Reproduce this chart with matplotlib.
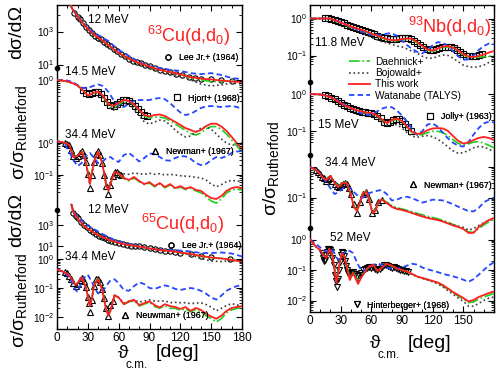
import numpy as np
import matplotlib
matplotlib.use('Agg')
import matplotlib.pyplot as plt
from matplotlib.lines import Line2D
from matplotlib.ticker import FixedLocator, FuncFormatter, NullFormatter, MultipleLocator

plt.rcParams['font.family'] = ['Liberation Sans', 'DejaVu Sans']
plt.rcParams['mathtext.fontset'] = 'custom'
plt.rcParams['mathtext.rm'] = 'Liberation Sans'
plt.rcParams['mathtext.it'] = 'Liberation Sans:italic'
plt.rcParams['mathtext.bf'] = 'Liberation Sans:bold'

# ---------------- data ----------------
# 63Cu, 12 MeV (dsigma/dOmega)
cu63_12_theta = [12, 15, 20, 25, 30, 35, 40, 45, 50, 55, 60, 70, 80, 90, 100, 110, 120, 130, 140, 150, 160, 170, 180]
cu63_12_daehnick = [6.0e4, 2.2e4, 7.7e3, 3.2e3, 1.4e3, 700, 430, 255, 148, 86, 50, 23, 12.0, 7.4, 4.6, 3.4, 2.4, 1.6, 1.2, 0.9, 0.95, 1.0, 0.9]
cu63_12_bojowald = [6.0e4, 2.2e4, 7.6e3, 3.1e3, 1.35e3, 680, 420, 250, 143, 82, 47, 21, 11, 6.6, 4.1, 2.8, 2.0, 1.15, 0.66, 0.5, 0.58, 0.76, 0.66]
cu63_12_thiswork = [6.2e4, 2.3e4, 7.9e3, 3.3e3, 1.4e3, 710, 440, 260, 150, 87, 50, 23, 12.3, 7.6, 4.7, 3.5, 2.5, 1.7, 1.4, 1.23, 1.07, 0.93, 0.87]
cu63_12_watanabe = [6.5e4, 2.5e4, 8.5e3, 3.6e3, 1.6e3, 900, 620, 400, 265, 140, 76, 33, 14, 8.1, 6.2, 4.7, 4.1, 3.0, 2.6, 3.0, 2.3, 1.5, 1.3]
cu63_12_exp_theta = [17, 20, 22, 25, 28, 31, 34, 37, 40, 43, 46, 49, 52, 55, 58, 62, 66, 70, 74, 78, 82, 86, 90, 95, 100, 105, 110, 116, 122, 128, 134, 140, 150, 160, 170]
cu63_12_exp = [1.4e4, 7.5e3, 5.5e3, 3.2e3, 2.0e3, 1.2e3, 800, 560, 430, 330, 230, 170, 125, 90, 65, 42, 31, 23, 17, 13.5, 11.5, 9.5, 7.8, 6.0, 4.8, 4.2, 3.6, 2.8, 2.4, 1.8, 1.55, 1.4, 1.25, 1.1, 0.95]

# 63Cu, 14.5 MeV
cu63_14_theta = [0, 5, 10, 15, 20, 25, 30, 35, 40, 45, 50, 55, 60, 65, 70, 75, 80, 85, 90, 95, 100, 105, 110, 115, 120, 125, 130, 135, 140, 145, 150, 155, 160, 165, 170, 175, 180]
cu63_14_daehnick = [1.0, 0.96, 0.89, 0.79, 0.66, 0.46, 0.30, 0.36, 0.39, 0.27, 0.145, 0.117, 0.147, 0.20, 0.19, 0.145, 0.095, 0.064, 0.054, 0.058, 0.058, 0.054, 0.043, 0.034, 0.027, 0.0207, 0.0165, 0.0147, 0.0171, 0.0233, 0.028, 0.028, 0.0224, 0.0158, 0.010, 0.0063, 0.0040]
cu63_14_bojowald = [1.0, 0.96, 0.89, 0.79, 0.65, 0.45, 0.29, 0.35, 0.38, 0.25, 0.126, 0.10, 0.126, 0.17, 0.158, 0.108, 0.063, 0.040, 0.034, 0.040, 0.046, 0.043, 0.032, 0.0215, 0.0158, 0.0126, 0.0136, 0.0185, 0.025, 0.027, 0.023, 0.0158, 0.0108, 0.0079, 0.0068, 0.0068, 0.0079]
cu63_14_thiswork = [1.0, 0.96, 0.89, 0.79, 0.66, 0.46, 0.30, 0.37, 0.41, 0.29, 0.16, 0.136, 0.17, 0.215, 0.20, 0.152, 0.10, 0.068, 0.061, 0.068, 0.071, 0.063, 0.050, 0.040, 0.032, 0.025, 0.0215, 0.0185, 0.0215, 0.029, 0.035, 0.035, 0.028, 0.020, 0.0126, 0.0079, 0.0050]
cu63_14_watanabe = [1.0, 1.0, 0.96, 0.86, 0.68, 0.54, 0.54, 0.63, 0.71, 0.63, 0.40, 0.215, 0.136, 0.126, 0.158, 0.20, 0.215, 0.215, 0.215, 0.24, 0.25, 0.23, 0.17, 0.117, 0.083, 0.068, 0.074, 0.093, 0.117, 0.131, 0.136, 0.131, 0.126, 0.131, 0.136, 0.126, 0.108]
cu63_14_exp_theta = [25, 28, 31, 34, 37, 40, 43, 46, 49, 52, 55, 58, 61, 64, 67, 70, 73, 76, 79, 82, 85, 88]
cu63_14_exp = [0.45, 0.36, 0.33, 0.36, 0.40, 0.40, 0.33, 0.25, 0.18, 0.145, 0.14, 0.16, 0.18, 0.21, 0.22, 0.20, 0.17, 0.14, 0.11, 0.085, 0.07, 0.062]

# 63Cu, 34.4 MeV
cu63_34_theta = [0, 4, 8, 12, 16, 20, 24, 28, 32, 36, 40, 44, 48, 50, 52, 56, 60, 65, 70, 75, 80, 85, 90, 95, 100, 105, 110, 115, 120, 125, 130, 135, 140, 145, 150, 155, 160, 165, 170, 175, 180]
cu63_34_daehnick = [1.15, 1.07, 1.0, 0.87, 0.38, 0.40, 0.55, 0.27, 0.06, 0.27, 0.55, 0.25, 0.05, 0.036, 0.055, 0.12, 0.105, 0.077, 0.066, 0.080, 0.062, 0.050, 0.056, 0.043, 0.052, 0.040, 0.049, 0.037, 0.042, 0.035, 0.039, 0.032, 0.028, 0.021, 0.0154, 0.0133, 0.0178, 0.0276, 0.034, 0.036, 0.034]
cu63_34_bojowald = [1.15, 1.07, 1.0, 0.87, 0.37, 0.39, 0.53, 0.25, 0.05, 0.25, 0.53, 0.24, 0.05, 0.04, 0.06, 0.13, 0.12, 0.11, 0.105, 0.115, 0.11, 0.105, 0.113, 0.105, 0.11, 0.10, 0.105, 0.10, 0.095, 0.092, 0.09, 0.085, 0.081, 0.07, 0.052, 0.043, 0.05, 0.062, 0.068, 0.065, 0.062]
cu63_34_thiswork = [1.15, 1.07, 1.0, 0.87, 0.365, 0.39, 0.54, 0.255, 0.052, 0.255, 0.54, 0.237, 0.045, 0.032, 0.052, 0.124, 0.111, 0.081, 0.070, 0.087, 0.065, 0.052, 0.060, 0.045, 0.056, 0.042, 0.052, 0.039, 0.045, 0.037, 0.042, 0.034, 0.032, 0.024, 0.0191, 0.0178, 0.0221, 0.032, 0.039, 0.042, 0.039]
cu63_34_watanabe = [1.15, 1.07, 0.87, 0.52, 0.29, 0.19, 0.237, 0.39, 0.49, 0.34, 0.237, 0.255, 0.34, 0.35, 0.365, 0.29, 0.255, 0.42, 0.49, 0.365, 0.264, 0.34, 0.47, 0.45, 0.365, 0.29, 0.28, 0.34, 0.39, 0.38, 0.32, 0.237, 0.205, 0.22, 0.29, 0.365, 0.34, 0.39, 0.49, 0.54, 0.56]
cu63_34_exp_theta = [8, 10, 12, 14, 16, 18, 20, 22, 24, 26, 28, 30, 32, 34, 36, 38, 40, 42, 44, 46, 48, 50, 52, 54, 56, 58, 60, 62]
cu63_34_exp = [1.0, 0.95, 0.85, 0.6, 0.38, 0.33, 0.40, 0.48, 0.55, 0.42, 0.25, 0.11, 0.04, 0.1, 0.25, 0.45, 0.56, 0.42, 0.24, 0.10, 0.045, 0.025, 0.05, 0.09, 0.12, 0.125, 0.11, 0.10]

# 65Cu, 12 MeV (dsigma/dOmega)
cu65_12_theta = [14, 16, 20, 25, 30, 35, 40, 45, 50, 55, 60, 70, 80, 90, 100, 110, 120, 130, 140, 150, 160, 170, 180]
cu65_12_daehnick = [8.9e4, 1.55e4, 4.2e3, 1.1e3, 415, 215, 112, 65, 42, 27, 19.5, 12.4, 8.9, 5.8, 4.2, 3.3, 2.4, 1.74, 1.0, 0.72, 0.65, 0.5, 0.37]
cu65_12_bojowald = [8.9e4, 1.5e4, 4.1e3, 1.05e3, 400, 205, 107, 62, 40, 26, 18.5, 11.8, 8.4, 5.4, 3.9, 3.0, 2.2, 1.38, 0.65, 0.37, 0.33, 0.42, 0.33]
cu65_12_thiswork = [8.9e4, 1.55e4, 4.2e3, 1.1e3, 415, 215, 112, 65, 42, 27, 19.5, 12.4, 8.9, 5.8, 4.2, 3.3, 2.4, 1.74, 1.12, 0.80, 0.65, 0.47, 0.33]
cu65_12_watanabe = [8.9e4, 1.9e4, 5.8e3, 2.15e3, 900, 465, 240, 125, 72, 42, 27, 15.5, 10, 5.8, 4.6, 4.2, 3.7, 3.0, 2.15, 2.15, 2.4, 1.93, 1.0]
cu65_12_exp_theta = [16, 18, 20, 23, 26, 29, 32, 35, 38, 41, 44, 47, 50, 53, 56, 60, 64, 68, 72, 76, 80, 85, 90, 95, 100, 105, 110, 115, 120, 130, 140, 150, 168]
cu65_12_exp = [1.5e4, 7e3, 4.5e3, 2e3, 900, 600, 330, 210, 140, 95, 70, 52, 40, 31, 24, 19, 15.5, 13, 11, 10, 9, 7.5, 6, 5, 4.2, 3.6, 3.2, 2.8, 2.4, 1.8, 1.2, 0.85, 0.6]

# 65Cu, 34.4 MeV
cu65_34_theta = [0, 4, 8, 12, 16, 18, 20, 24, 28, 30, 32, 34, 36, 40, 44, 48, 50, 52, 56, 60, 65, 70, 75, 80, 85, 90, 95, 100, 105, 110, 115, 120, 125, 130, 135, 140, 145, 150, 155, 160, 165, 170, 175, 180]
cu65_34_daehnick = [0.43, 0.39, 0.335, 0.28, 0.16, 0.13, 0.15, 0.23, 0.11, 0.055, 0.027, 0.045, 0.13, 0.21, 0.09, 0.018, 0.013, 0.018, 0.055, 0.046, 0.027, 0.033, 0.037, 0.024, 0.028, 0.032, 0.023, 0.020, 0.025, 0.020, 0.020, 0.017, 0.019, 0.015, 0.018, 0.015, 0.011, 0.0089, 0.0067, 0.0089, 0.014, 0.0176, 0.0197, 0.0221]
cu65_34_bojowald = [0.43, 0.39, 0.335, 0.275, 0.155, 0.125, 0.145, 0.225, 0.105, 0.05, 0.025, 0.045, 0.125, 0.2, 0.085, 0.018, 0.013, 0.018, 0.055, 0.047, 0.03, 0.035, 0.038, 0.033, 0.035, 0.039, 0.036, 0.035, 0.036, 0.031, 0.032, 0.031, 0.031, 0.029, 0.030, 0.031, 0.027, 0.022, 0.0163, 0.02, 0.025, 0.029, 0.026, 0.024]
cu65_34_thiswork = [0.43, 0.39, 0.335, 0.277, 0.157, 0.126, 0.146, 0.23, 0.108, 0.051, 0.0238, 0.0436, 0.126, 0.205, 0.086, 0.0163, 0.0112, 0.0163, 0.057, 0.047, 0.0277, 0.0348, 0.039, 0.0257, 0.030, 0.0348, 0.0257, 0.0213, 0.0277, 0.0238, 0.0221, 0.019, 0.0221, 0.0163, 0.0205, 0.0176, 0.013, 0.0104, 0.0087, 0.0112, 0.0163, 0.0205, 0.0221, 0.0238]
cu65_34_watanabe = [0.43, 0.39, 0.31, 0.23, 0.126, 0.086, 0.074, 0.157, 0.267, 0.288, 0.213, 0.16, 0.108, 0.064, 0.074, 0.116, 0.15, 0.183, 0.20, 0.146, 0.086, 0.080, 0.116, 0.157, 0.136, 0.10, 0.093, 0.108, 0.123, 0.112, 0.093, 0.086, 0.093, 0.10, 0.093, 0.080, 0.064, 0.047, 0.040, 0.055, 0.080, 0.10, 0.116, 0.126]
cu65_34_exp_theta = [8, 10, 12, 14, 16, 18, 20, 22, 24, 26, 28, 30, 31, 32, 34, 36, 38, 40, 42, 44, 46, 48, 50, 52, 54]
cu65_34_exp = [0.36, 0.33, 0.26, 0.2, 0.15, 0.12, 0.14, 0.19, 0.22, 0.17, 0.11, 0.05, 0.03, 0.015, 0.04, 0.12, 0.2, 0.21, 0.16, 0.09, 0.045, 0.02, 0.0105, 0.025, 0.035]

# 93Nb, 11.8 MeV
nb_11_theta = [0, 10, 20, 25, 30, 35, 40, 45, 50, 55, 60, 65, 70, 75, 80, 85, 90, 95, 100, 105, 110, 115, 120, 125, 130, 135, 140, 145, 150, 155, 160, 165, 170, 175, 180]
nb_11_daehnick = [1.0, 1.0, 1.0, 0.86, 0.75, 0.66, 0.58, 0.53, 0.48, 0.43, 0.38, 0.34, 0.30, 0.27, 0.25, 0.25, 0.27, 0.28, 0.265, 0.22, 0.17, 0.14, 0.13, 0.145, 0.165, 0.17, 0.155, 0.13, 0.105, 0.09, 0.088, 0.09, 0.092, 0.095, 0.1]
nb_11_bojowald = [1.0, 1.0, 0.98, 0.85, 0.74, 0.63, 0.55, 0.48, 0.42, 0.36, 0.31, 0.27, 0.24, 0.22, 0.2, 0.18, 0.17, 0.15, 0.13, 0.115, 0.095, 0.085, 0.084, 0.095, 0.103, 0.1, 0.085, 0.068, 0.055, 0.05, 0.048, 0.05, 0.055, 0.065, 0.076]
nb_11_thiswork = [1.0, 1.0, 1.0, 0.88, 0.78, 0.69, 0.61, 0.55, 0.50, 0.445, 0.39, 0.35, 0.31, 0.28, 0.26, 0.26, 0.28, 0.29, 0.28, 0.23, 0.18, 0.145, 0.136, 0.155, 0.175, 0.18, 0.164, 0.136, 0.11, 0.094, 0.091, 0.097, 0.106, 0.12, 0.132]
nb_11_watanabe = [1.0, 1.0, 0.98, 0.9, 0.8, 0.7, 0.6, 0.52, 0.45, 0.40, 0.36, 0.35, 0.36, 0.39, 0.40, 0.34, 0.25, 0.19, 0.15, 0.125, 0.115, 0.14, 0.19, 0.23, 0.22, 0.18, 0.13, 0.095, 0.076, 0.08, 0.1, 0.14, 0.18, 0.21, 0.2]
nb_11_exp_theta = [15, 18, 21, 24, 27, 30, 33, 36, 39, 42, 45, 48, 51, 54, 57, 60, 63, 66, 69, 72, 75, 78, 81, 84, 87, 90, 93, 96, 99, 102, 105, 108, 111, 114, 117, 120, 123, 126, 129, 132, 135, 138, 141, 144, 147, 150, 153, 156, 159, 162, 165, 168]
nb_11_exp = [1.02, 1.05, 1.0, 0.92, 0.84, 0.8, 0.74, 0.68, 0.62, 0.6, 0.57, 0.53, 0.5, 0.46, 0.42, 0.4, 0.37, 0.34, 0.32, 0.3, 0.29, 0.28, 0.28, 0.28, 0.29, 0.30, 0.30, 0.30, 0.28, 0.25, 0.22, 0.19, 0.165, 0.15, 0.14, 0.14, 0.15, 0.16, 0.17, 0.175, 0.175, 0.17, 0.16, 0.14, 0.125, 0.11, 0.1, 0.095, 0.095, 0.1, 0.105, 0.11]

# 93Nb, 15 MeV
nb_15_theta = [0, 10, 15, 20, 25, 30, 35, 40, 45, 50, 55, 60, 65, 70, 75, 80, 85, 90, 95, 100, 105, 110, 115, 120, 125, 130, 135, 140, 145, 150, 155, 160, 165, 170, 175, 180]
nb_15_daehnick = [1.0, 0.97, 0.91, 0.83, 0.69, 0.57, 0.47, 0.41, 0.36, 0.33, 0.31, 0.3, 0.26, 0.2, 0.158, 0.19, 0.21, 0.18, 0.128, 0.09, 0.078, 0.08, 0.09, 0.098, 0.098, 0.09, 0.075, 0.058, 0.046, 0.042, 0.045, 0.05, 0.052, 0.047, 0.041, 0.035]
nb_15_bojowald = [1.0, 0.97, 0.9, 0.81, 0.67, 0.55, 0.45, 0.40, 0.35, 0.32, 0.29, 0.27, 0.24, 0.19, 0.145, 0.15, 0.15, 0.12, 0.09, 0.072, 0.068, 0.072, 0.075, 0.07, 0.06, 0.048, 0.037, 0.029, 0.025, 0.026, 0.03, 0.035, 0.038, 0.037, 0.032, 0.028]
nb_15_thiswork = [1.0, 0.97, 0.91, 0.83, 0.69, 0.57, 0.47, 0.42, 0.37, 0.34, 0.316, 0.306, 0.27, 0.21, 0.164, 0.198, 0.218, 0.186, 0.132, 0.094, 0.083, 0.088, 0.106, 0.117, 0.12, 0.117, 0.1, 0.073, 0.054, 0.046, 0.049, 0.057, 0.065, 0.069, 0.065, 0.057]
nb_15_watanabe = [1.0, 0.97, 0.92, 0.84, 0.72, 0.6, 0.5, 0.42, 0.36, 0.3, 0.27, 0.28, 0.33, 0.4, 0.44, 0.44, 0.36, 0.26, 0.18, 0.11, 0.078, 0.1, 0.15, 0.16, 0.13, 0.09, 0.063, 0.048, 0.04, 0.038, 0.05, 0.08, 0.12, 0.16, 0.18, 0.17]
nb_15_exp_theta = [15, 18, 21, 24, 27, 30, 33, 36, 39, 42, 45, 48, 51, 54, 57, 60, 63, 66, 69, 72, 75, 78, 81, 84, 87, 90, 93, 96, 99]
nb_15_exp = [0.93, 0.88, 0.8, 0.72, 0.64, 0.58, 0.52, 0.47, 0.43, 0.4, 0.37, 0.35, 0.33, 0.32, 0.31, 0.3, 0.28, 0.25, 0.22, 0.18, 0.16, 0.18, 0.2, 0.21, 0.21, 0.19, 0.15, 0.125, 0.1]

# 93Nb, 34.4 MeV
nb_34_theta = [0, 4, 8, 12, 16, 20, 24, 28, 32, 36, 40, 43, 46, 49, 52, 55, 58, 61, 64, 67, 70, 75, 80, 85, 90, 95, 100, 105, 110, 115, 120, 125, 130, 135, 140, 145, 150, 155, 160, 165, 170, 175, 180]
nb_34_daehnick = [1.0, 0.86, 0.69, 0.47, 0.38, 0.52, 0.31, 0.23, 0.31, 0.32, 0.13, 0.052, 0.04, 0.075, 0.15, 0.165, 0.088, 0.034, 0.04, 0.075, 0.09, 0.07, 0.053, 0.046, 0.042, 0.038, 0.034, 0.03, 0.027, 0.024, 0.022, 0.02, 0.018, 0.0155, 0.013, 0.011, 0.0093, 0.0075, 0.0072, 0.0095, 0.0125, 0.016, 0.019]
nb_34_bojowald = [1.0, 0.86, 0.69, 0.47, 0.37, 0.5, 0.29, 0.21, 0.29, 0.29, 0.115, 0.048, 0.037, 0.07, 0.135, 0.15, 0.08, 0.033, 0.038, 0.07, 0.085, 0.07, 0.052, 0.044, 0.04, 0.036, 0.032, 0.028, 0.025, 0.022, 0.02, 0.0185, 0.0165, 0.0145, 0.0128, 0.0115, 0.0105, 0.0085, 0.0095, 0.012, 0.015, 0.018, 0.02]
nb_34_thiswork = [1.0, 0.86, 0.69, 0.47, 0.375, 0.51, 0.30, 0.22, 0.30, 0.30, 0.121, 0.049, 0.036, 0.071, 0.14, 0.157, 0.083, 0.031, 0.036, 0.071, 0.086, 0.066, 0.049, 0.042, 0.039, 0.035, 0.031, 0.0267, 0.0238, 0.0213, 0.0197, 0.0183, 0.0163, 0.0141, 0.0121, 0.0108, 0.0093, 0.0069, 0.0069, 0.0108, 0.0141, 0.0183, 0.0213]
nb_34_watanabe = [1.0, 0.88, 0.72, 0.5, 0.32, 0.2, 0.13, 0.15, 0.2, 0.226, 0.2, 0.15, 0.12, 0.1, 0.1, 0.12, 0.14, 0.15, 0.16, 0.17, 0.176, 0.13, 0.08, 0.085, 0.1, 0.106, 0.095, 0.08, 0.068, 0.075, 0.085, 0.083, 0.08, 0.07, 0.06, 0.05, 0.042, 0.036, 0.035, 0.045, 0.07, 0.085, 0.1]
nb_34_exp_theta = [6, 8, 10, 12, 14, 16, 18, 20, 22, 24, 26, 28, 30, 32, 34, 36, 38, 40, 43, 46, 49, 52, 55, 58, 61, 64, 67, 70]
nb_34_exp = [0.8, 0.7, 0.58, 0.48, 0.42, 0.35, 0.4, 0.45, 0.35, 0.28, 0.24, 0.22, 0.25, 0.28, 0.3, 0.27, 0.2, 0.13, 0.06, 0.032, 0.07, 0.13, 0.15, 0.09, 0.03, 0.04, 0.07, 0.085]

# 93Nb, 52 MeV
nb_52_theta = [0, 3, 6, 10, 13, 16, 19, 22, 24, 26, 28, 31, 34, 37, 39, 42, 44, 47, 50, 54, 58, 62, 66, 70, 75, 80, 85, 90, 95, 100, 105, 110, 115, 120, 125, 130, 135, 140, 145, 150, 155, 160, 165, 170, 175, 180]
nb_52_daehnick = [1.0, 0.75, 0.57, 0.45, 0.32, 0.26, 0.48, 0.3, 0.11, 0.045, 0.11, 0.36, 0.26, 0.1, 0.06, 0.085, 0.065, 0.045, 0.06, 0.09, 0.13, 0.14, 0.095, 0.115, 0.155, 0.135, 0.11, 0.098, 0.087, 0.072, 0.06, 0.054, 0.048, 0.042, 0.037, 0.03, 0.023, 0.018, 0.014, 0.011, 0.0085, 0.009, 0.011, 0.013, 0.015, 0.017]
nb_52_bojowald = [1.0, 0.75, 0.57, 0.45, 0.32, 0.26, 0.47, 0.3, 0.11, 0.045, 0.11, 0.35, 0.26, 0.1, 0.06, 0.085, 0.065, 0.045, 0.06, 0.09, 0.13, 0.14, 0.095, 0.115, 0.155, 0.135, 0.11, 0.098, 0.087, 0.072, 0.06, 0.053, 0.047, 0.041, 0.035, 0.028, 0.021, 0.016, 0.012, 0.0095, 0.0065, 0.0065, 0.008, 0.01, 0.012, 0.013]
nb_52_thiswork = [1.0, 0.75, 0.57, 0.45, 0.31, 0.25, 0.49, 0.29, 0.10, 0.0375, 0.10, 0.36, 0.25, 0.086, 0.047, 0.080, 0.059, 0.035, 0.055, 0.089, 0.135, 0.146, 0.093, 0.116, 0.163, 0.14, 0.112, 0.1, 0.089, 0.074, 0.061, 0.055, 0.049, 0.0436, 0.039, 0.032, 0.0247, 0.019, 0.0151, 0.0121, 0.0093, 0.0104, 0.013, 0.0151, 0.0176, 0.0197]
nb_52_watanabe = [1.0, 0.85, 0.7, 0.55, 0.45, 0.4, 0.45, 0.45, 0.35, 0.25, 0.22, 0.3, 0.38, 0.43, 0.42, 0.36, 0.25, 0.15, 0.1, 0.1, 0.12, 0.15, 0.16, 0.15, 0.12, 0.11, 0.11, 0.12, 0.14, 0.16, 0.15, 0.12, 0.105, 0.095, 0.085, 0.075, 0.068, 0.062, 0.055, 0.048, 0.041, 0.05, 0.07, 0.1, 0.14, 0.18]
nb_52_exp_theta = [12, 13, 14, 15, 16, 17, 18, 19, 20, 21, 22, 23, 24, 25, 26, 27, 28, 29, 30, 31, 32, 33, 34, 35, 36, 37, 38, 40, 42, 44, 46, 48, 50, 52, 54, 56, 58, 60, 62, 64, 66, 68, 70, 72, 74, 76, 78, 80, 82, 84, 86, 88, 90, 92, 94, 96]
nb_52_exp = [0.35, 0.25, 0.2, 0.22, 0.3, 0.4, 0.5, 0.5, 0.45, 0.38, 0.25, 0.15, 0.07, 0.045, 0.028, 0.05, 0.1, 0.18, 0.3, 0.38, 0.35, 0.28, 0.2, 0.14, 0.1, 0.08, 0.075, 0.08, 0.085, 0.075, 0.065, 0.07, 0.08, 0.1, 0.11, 0.12, 0.13, 0.12, 0.125, 0.11, 0.1, 0.11, 0.13, 0.15, 0.15, 0.14, 0.13, 0.12, 0.13, 0.12, 0.11, 0.1, 0.1, 0.095, 0.09, 0.085]

model_labels = ['Daehnick+', 'Bojowald+', 'This work', 'Watanabe (TALYS)']
x_ticks = [0, 30, 60, 90, 120, 150, 180]

# ---------------- styling ----------------
RED = '#ff1f1f'
GREEN = '#1ed01e'
GRAY = '#3c3c3c'
BLUE = '#2447ff'
BLUE_DASH = (0, (3.0, 1.8))
TICK_FS = 7.3

W, H = 496, 371
fig = plt.figure(figsize=(W / 100, H / 100), dpi=100)

LP = (57, 242, 5, 329)      # left panel  x0, x1, ytop, ybottom (pixels)
RP = (310, 494, 5, 311.7)   # right panel


def rect(P):
    x0, x1, y0, y1 = P
    return [x0 / W, 1 - y1 / H, (x1 - x0) / W, (y1 - y0) / H]


def afx(P, px):
    return (px - P[0]) / (P[1] - P[0])


def afy(P, py):
    return (P[3] - py) / (P[3] - P[2])


def frame(P, labels, name):
    ax = fig.add_axes(rect(P), label=name)
    ax.set_xlim(0, 180)
    ax.set_ylim(0, 1)
    ax.set_yticks([])
    ax.set_xticks(x_ticks)
    ax.set_xticklabels(labels)
    ax.xaxis.set_minor_locator(MultipleLocator(10))
    ax.tick_params(axis='x', which='both', direction='in', top=True, bottom=True,
                   labelsize=8.5, pad=2.5)
    ax.tick_params(axis='x', which='major', length=4, width=0.8)
    ax.tick_params(axis='x', which='minor', length=2, width=0.7)
    for s in ax.spines.values():
        s.set_linewidth(1.0)
    return ax


def layer(P, name, ref_px, d, majors, labelled, minors):
    ax = fig.add_axes(rect(P), label=name, facecolor='none')
    ax.set_yscale('log')
    lo = -(P[3] - ref_px) / d
    hi = (ref_px - P[2]) / d
    ax.set_ylim(10 ** lo, 10 ** hi)
    ax.set_xlim(0, 180)
    for s in ax.spines.values():
        s.set_visible(False)
    ax.tick_params(axis='x', which='both', bottom=False, top=False, labelbottom=False)
    ax.yaxis.set_major_locator(FixedLocator(majors))

    def fmt(v, pos):
        e = int(round(np.log10(v)))
        return r'$10^{%d}$' % e if e in labelled else ''
    ax.yaxis.set_major_formatter(FuncFormatter(fmt))
    ax.yaxis.set_minor_locator(FixedLocator(minors))
    ax.yaxis.set_minor_formatter(NullFormatter())
    ax.tick_params(axis='y', which='both', direction='in', left=True, right=True,
                   labelsize=TICK_FS, pad=2)
    ax.tick_params(axis='y', which='major', length=4, width=0.8)
    ax.tick_params(axis='y', which='minor', length=2, width=0.6)
    ax.patch.set_visible(False)
    return ax


def subs(decades):
    return [k * 10.0 ** e for e in decades for k in range(2, 10)]


def draw(ax, th, dae, boj, tw, wat, eth, ev, marker):
    ax.plot(eth, ev, ls='none', marker=marker, mfc='none', mec='k', ms=3.8, mew=0.8, zorder=2)
    ax.plot(th, dae, color=GREEN, ls='-.', lw=1.2, zorder=3)
    ax.plot(th, boj, color=GRAY, ls=':', lw=1.2, zorder=3)
    ax.plot(th, wat, color=BLUE, ls=BLUE_DASH, lw=1.3, zorder=3)
    ax.plot(th, tw, color=RED, lw=1.3, zorder=4)


def mleg(ax, P, marker, label, mx, my):
    h = Line2D([], [], ls='none', marker=marker, mfc='none', mec='k', ms=3.8, mew=0.8)
    leg = ax.legend([h], [label], loc='center left',
                    bbox_to_anchor=(afx(P, mx - 4.3), afy(P, my)),
                    frameon=False, fontsize=6.3, handlelength=1.0, handletextpad=0.7,
                    borderpad=0, borderaxespad=0)
    ax.add_artist(leg)


# ---------------- left panel ----------------
frame(LP, [str(t) for t in x_ticks], 'lframe')

axA = layer(LP, 'A', 31.5 + 3 * 16.5, 16.5, [10, 1000], [1, 3], [100, 1e4])
draw(axA, cu63_12_theta, cu63_12_daehnick, cu63_12_bojowald, cu63_12_thiswork, cu63_12_watanabe,
     cu63_12_exp_theta, cu63_12_exp, 'o')
mleg(axA, LP, 'o', 'Lee Jr.+ (1964)', 168, 58)

axB = layer(LP, 'B', 80, 30, [1], [0], subs([-1]))
draw(axB, cu63_14_theta, cu63_14_daehnick, cu63_14_bojowald, cu63_14_thiswork, cu63_14_watanabe,
     cu63_14_exp_theta, cu63_14_exp, 's')
mleg(axB, LP, 's', 'Hjort+ (1968)', 177, 98)

axC = layer(LP, 'C', 143, 32, [1, 0.1], [0, -1], subs([-1]) + [0.03, 0.04, 0.05, 0.06, 0.07, 0.08, 0.09])
draw(axC, cu63_34_theta, cu63_34_daehnick, cu63_34_bojowald, cu63_34_thiswork, cu63_34_watanabe,
     cu63_34_exp_theta, cu63_34_exp, '^')
mleg(axC, LP, '^', 'Newman+ (1967)', 155, 151.7)

axD = layer(LP, 'D', 225 + 3 * 10.5, 10.5, [10, 1000], [1, 3], [100, 1e4])
draw(axD, cu65_12_theta, cu65_12_daehnick, cu65_12_bojowald, cu65_12_thiswork, cu65_12_watanabe,
     cu65_12_exp_theta, cu65_12_exp, 'o')
mleg(axD, LP, 'o', 'Lee Jr.+ (1964)', 171, 245.5)

axE = layer(LP, 'E', 259, 29, [1, 0.1, 0.01], [0, -1, -2], subs([-2, -1]))
draw(axE, cu65_34_theta, cu65_34_daehnick, cu65_34_bojowald, cu65_34_thiswork, cu65_34_watanabe,
     cu65_34_exp_theta, cu65_34_exp, '^')
mleg(axE, LP, '^', 'Neuwman+ (1967)', 125, 316)

# ---------------- right panel ----------------
frame(RP, ['0', '30', '60', '90', '120', '150', ''], 'rframe')

axF = layer(RP, 'F', 18.5, 37, [1, 0.1], [0, -1], subs([-1]) + [0.06, 0.07, 0.08, 0.09])
draw(axF, nb_11_theta, nb_11_daehnick, nb_11_bojowald, nb_11_thiswork, nb_11_watanabe,
     nb_11_exp_theta, nb_11_exp, 's')
handles = [Line2D([], [], color=GREEN, ls='-.', lw=1.2),
           Line2D([], [], color=GRAY, ls=':', lw=1.2),
           Line2D([], [], color=RED, lw=1.3),
           Line2D([], [], color=BLUE, ls=BLUE_DASH, lw=1.3)]
axF.legend(handles, model_labels, loc='upper left', bbox_to_anchor=(afx(RP, 349), afy(RP, 57)),
           frameon=False, fontsize=7.3, handlelength=2.1, handletextpad=0.45, labelspacing=0.12,
           borderpad=0, borderaxespad=0)

axG = layer(RP, 'G', 94, 37, [1, 0.1], [0, -1], subs([-1]) + [0.05, 0.06, 0.07, 0.08, 0.09])
draw(axG, nb_15_theta, nb_15_daehnick, nb_15_bojowald, nb_15_thiswork, nb_15_watanabe,
     nb_15_exp_theta, nb_15_exp, 's')
mleg(axG, RP, 's', 'Jolly+ (1963)', 430, 116.7)

axH = layer(RP, 'H', 167, 30.5, [1, 0.1], [-1], subs([-1]) + [0.03, 0.04, 0.05, 0.06, 0.07, 0.08, 0.09])
draw(axH, nb_34_theta, nb_34_daehnick, nb_34_bojowald, nb_34_thiswork, nb_34_watanabe,
     nb_34_exp_theta, nb_34_exp, '^')
mleg(axH, RP, '^', 'Newman+ (1967)', 413.3, 185)

axI = layer(RP, 'I', 239.5, 30.5, [1, 0.1, 0.01], [0, -1, -2], subs([-3, -2, -1]))
draw(axI, nb_52_theta, nb_52_daehnick, nb_52_bojowald, nb_52_thiswork, nb_52_watanabe,
     nb_52_exp_theta, nb_52_exp, 'v')
mleg(axI, RP, 'v', 'Hinterberger+ (1968)', 356.7, 305)

# ---------------- decorations / text ----------------
for (px, py) in [(57, 68), (57, 210), (310, 81.7), (310, 155), (310, 228.3)]:
    fig.add_artist(Line2D([px / W], [1 - py / H], marker='o', ms=3, color='k',
                          transform=fig.transFigure))


def T(px, py, s, **kw):
    fig.text(px / W, 1 - py / H, s, **kw)


for (px, py, s) in [(88, 20, '12 MeV'), (65, 72, '14.5 MeV'), (65, 135, '34.4 MeV'),
                    (88, 210, '12 MeV'), (65, 257.5, '34.4 MeV'),
                    (315, 43.3, '11.8 MeV'), (318, 125, '15 MeV'), (325, 163, '34.4 MeV'),
                    (330, 238.3, '52 MeV')]:
    T(px, py, s, fontsize=8.5, ha='left', va='center')

T(147, 41.7, r'$^{63}$Cu(d,d$_0$)', color=RED, fontsize=13, ha='left', va='baseline')
T(141, 230, r'$^{65}$Cu(d,d$_0$)', color=RED, fontsize=13, ha='left', va='baseline')
T(408, 33.3, r'$^{93}$Nb(d,d$_0$)', color=RED, fontsize=13, ha='left', va='baseline')

T(17, 32, 'dσ/dΩ', rotation=90, fontsize=14, ha='center', va='center')
T(19, 132, r'σ/σ$_{\rm Rutherford}$', rotation=90, fontsize=14, ha='center', va='center')
T(17, 220, 'dσ/dΩ', rotation=90, fontsize=14, ha='center', va='center')
T(19, 300, r'σ/σ$_{\rm Rutherford}$', rotation=90, fontsize=14, ha='center', va='center')
T(271, 168, r'σ/σ$_{\rm Rutherford}$', rotation=90, fontsize=14, ha='center', va='center')

for (x0, y0) in [(123, 353), (375, 343.5)]:
    T(x0, y0, 'ϑ', fontsize=14, ha='center', va='center')
    T(x0 + 14, y0 + 11.5, 'c.m.', fontsize=8.5, ha='center', va='center')
    T(x0 + 54, y0 - 0.5, '[deg]', fontsize=14, ha='center', va='center')

fig.savefig('out.png', dpi=100)
